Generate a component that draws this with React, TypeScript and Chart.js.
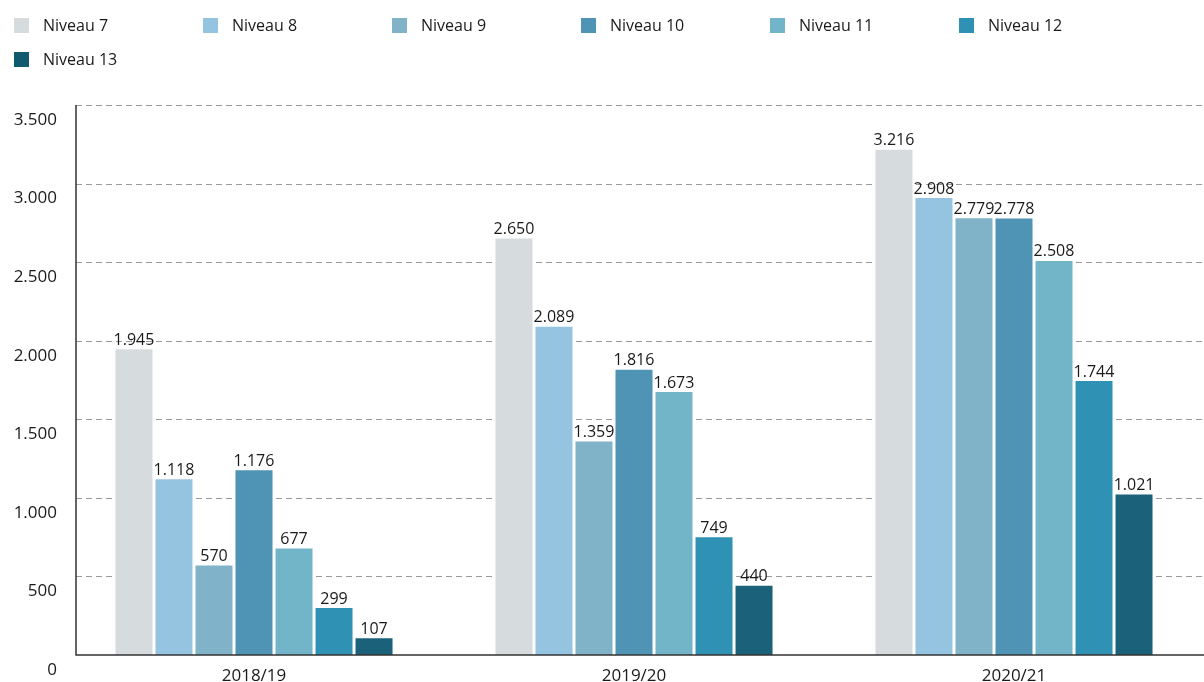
import React, { useEffect, useRef } from "react";
import { Chart, registerables } from "chart.js";

Chart.register(...registerables);

const categories = ["2018/19", "2019/20", "2020/21"];
const seriesNames = ["Niveau 7", "Niveau 8", "Niveau 9", "Niveau 10", "Niveau 11", "Niveau 12", "Niveau 13"];
const niveau7 = [1945, 2650, 3216];
const niveau8 = [1118, 2089, 2908];
const niveau9 = [570, 1359, 2779];
const niveau10 = [1176, 1816, 2778];
const niveau11 = [677, 1673, 2508];
const niveau12 = [299, 749, 1744];
const niveau13 = [107, 440, 1021];
const seriesValues = [niveau7, niveau8, niveau9, niveau10, niveau11, niveau12, niveau13];
const colors = ["#d6dbde", "#95c4e1", "#80b3c8", "#4f94b4", "#72b5c9", "#2f91b3", "#1b6179"];
const legendColors = ["#d6dbde", "#95c4e1", "#80b3c8", "#4f94b4", "#72b5c9", "#2f91b3", "#0f5a6e"];
const yMax = 3500;
const yStep = 500;

const FONT = "'Open Sans', 'Noto Sans', sans-serif";
const AXIS_X = 76;

const fmt = (v: number) => v.toString().replace(/\B(?=(\d{3})+(?!\d))/g, ".");

const axesAndGrid = {
  id: "axesAndGrid",
  beforeDatasetsDraw(chart: any) {
    const ctx = chart.ctx;
    const y = chart.scales.y;
    const area = chart.chartArea;
    ctx.save();
    ctx.strokeStyle = "#9a9a9a";
    ctx.lineWidth = 1;
    ctx.setLineDash([6, 4]);
    y.ticks.forEach((t: any) => {
      if (t.value === 0) return;
      const py = Math.round(y.getPixelForValue(t.value)) + 0.5;
      ctx.beginPath();
      ctx.moveTo(AXIS_X, py);
      ctx.lineTo(area.right, py);
      ctx.stroke();
    });
    ctx.restore();
  },
  afterDatasetsDraw(chart: any) {
    const ctx = chart.ctx;
    const y = chart.scales.y;
    const area = chart.chartArea;
    ctx.save();
    ctx.strokeStyle = "#333";
    ctx.lineWidth = 1.5;
    const y0 = y.getPixelForValue(0);
    ctx.beginPath();
    ctx.moveTo(AXIS_X, area.top);
    ctx.lineTo(AXIS_X, y0);
    ctx.lineTo(area.right, y0);
    ctx.stroke();
    ctx.restore();

    ctx.save();
    ctx.font = `16px ${FONT}`;
    ctx.fillStyle = "#1a1a1a";
    ctx.textAlign = "center";
    ctx.textBaseline = "bottom";
    chart.data.datasets.forEach((ds: any, i: number) => {
      const meta = chart.getDatasetMeta(i);
      meta.data.forEach((bar: any, j: number) => {
        ctx.fillText(fmt(ds.data[j]), bar.x, bar.y - 1);
      });
    });
    ctx.restore();
  },
};

export default function App() {
  const ref = useRef<HTMLCanvasElement>(null);
  useEffect(() => {
    const chart = new Chart(ref.current!, {
      type: "bar",
      data: {
        labels: categories,
        datasets: seriesNames.map((name, i) => ({
          label: name,
          data: seriesValues[i],
          backgroundColor: colors[i],
          borderWidth: 0,
          categoryPercentage: 0.737,
          barPercentage: 0.925,
        })),
      },
      options: {
        animation: false,
        responsive: false,
        maintainAspectRatio: false,
        layout: { padding: { top: 105, right: 0, left: 0, bottom: 0 } },
        plugins: {
          legend: { display: false },
          tooltip: { enabled: false },
        },
        scales: {
          x: {
            grid: { display: false, drawTicks: false },
            border: { display: false },
            ticks: { color: "#1a1a1a", font: { family: FONT, size: 17 }, padding: 11 },
            afterFit: (s: any) => { s.height = 27; },
          },
          y: {
            min: 0,
            max: yMax,
            ticks: {
              stepSize: yStep,
              color: "#1a1a1a",
              font: { family: FONT, size: 17 },
              padding: 7,
              labelOffset: 15,
              callback: (v: any) => fmt(Number(v)),
            },
            grid: { display: false, drawTicks: false },
            border: { display: false },
            afterFit: (s: any) => { s.width = 64; },
          },
        },
      },
      plugins: [axesAndGrid],
    } as any);
    return () => chart.destroy();
  }, []);

  return (
    <div style={{ position: "fixed", left: 0, top: 0, width: 1204, height: 682, background: "#fff", fontFamily: FONT }}>
      <canvas ref={ref} width={1204} height={682} style={{ position: "absolute", left: 0, top: 0 }} />
      <div style={{ position: "absolute", left: 14, top: 16, width: 1190, display: "flex", flexWrap: "wrap", rowGap: 16 }}>
        {seriesNames.map((n, i) => (
          <div key={n} style={{ width: 189, display: "flex", alignItems: "center", fontSize: 16, color: "#1a1a1a", height: 18 }}>
            <span style={{ display: "inline-block", width: 15, height: 15, background: legendColors[i], marginRight: 14 }} />
            {n}
          </div>
        ))}
      </div>
    </div>
  );
}
